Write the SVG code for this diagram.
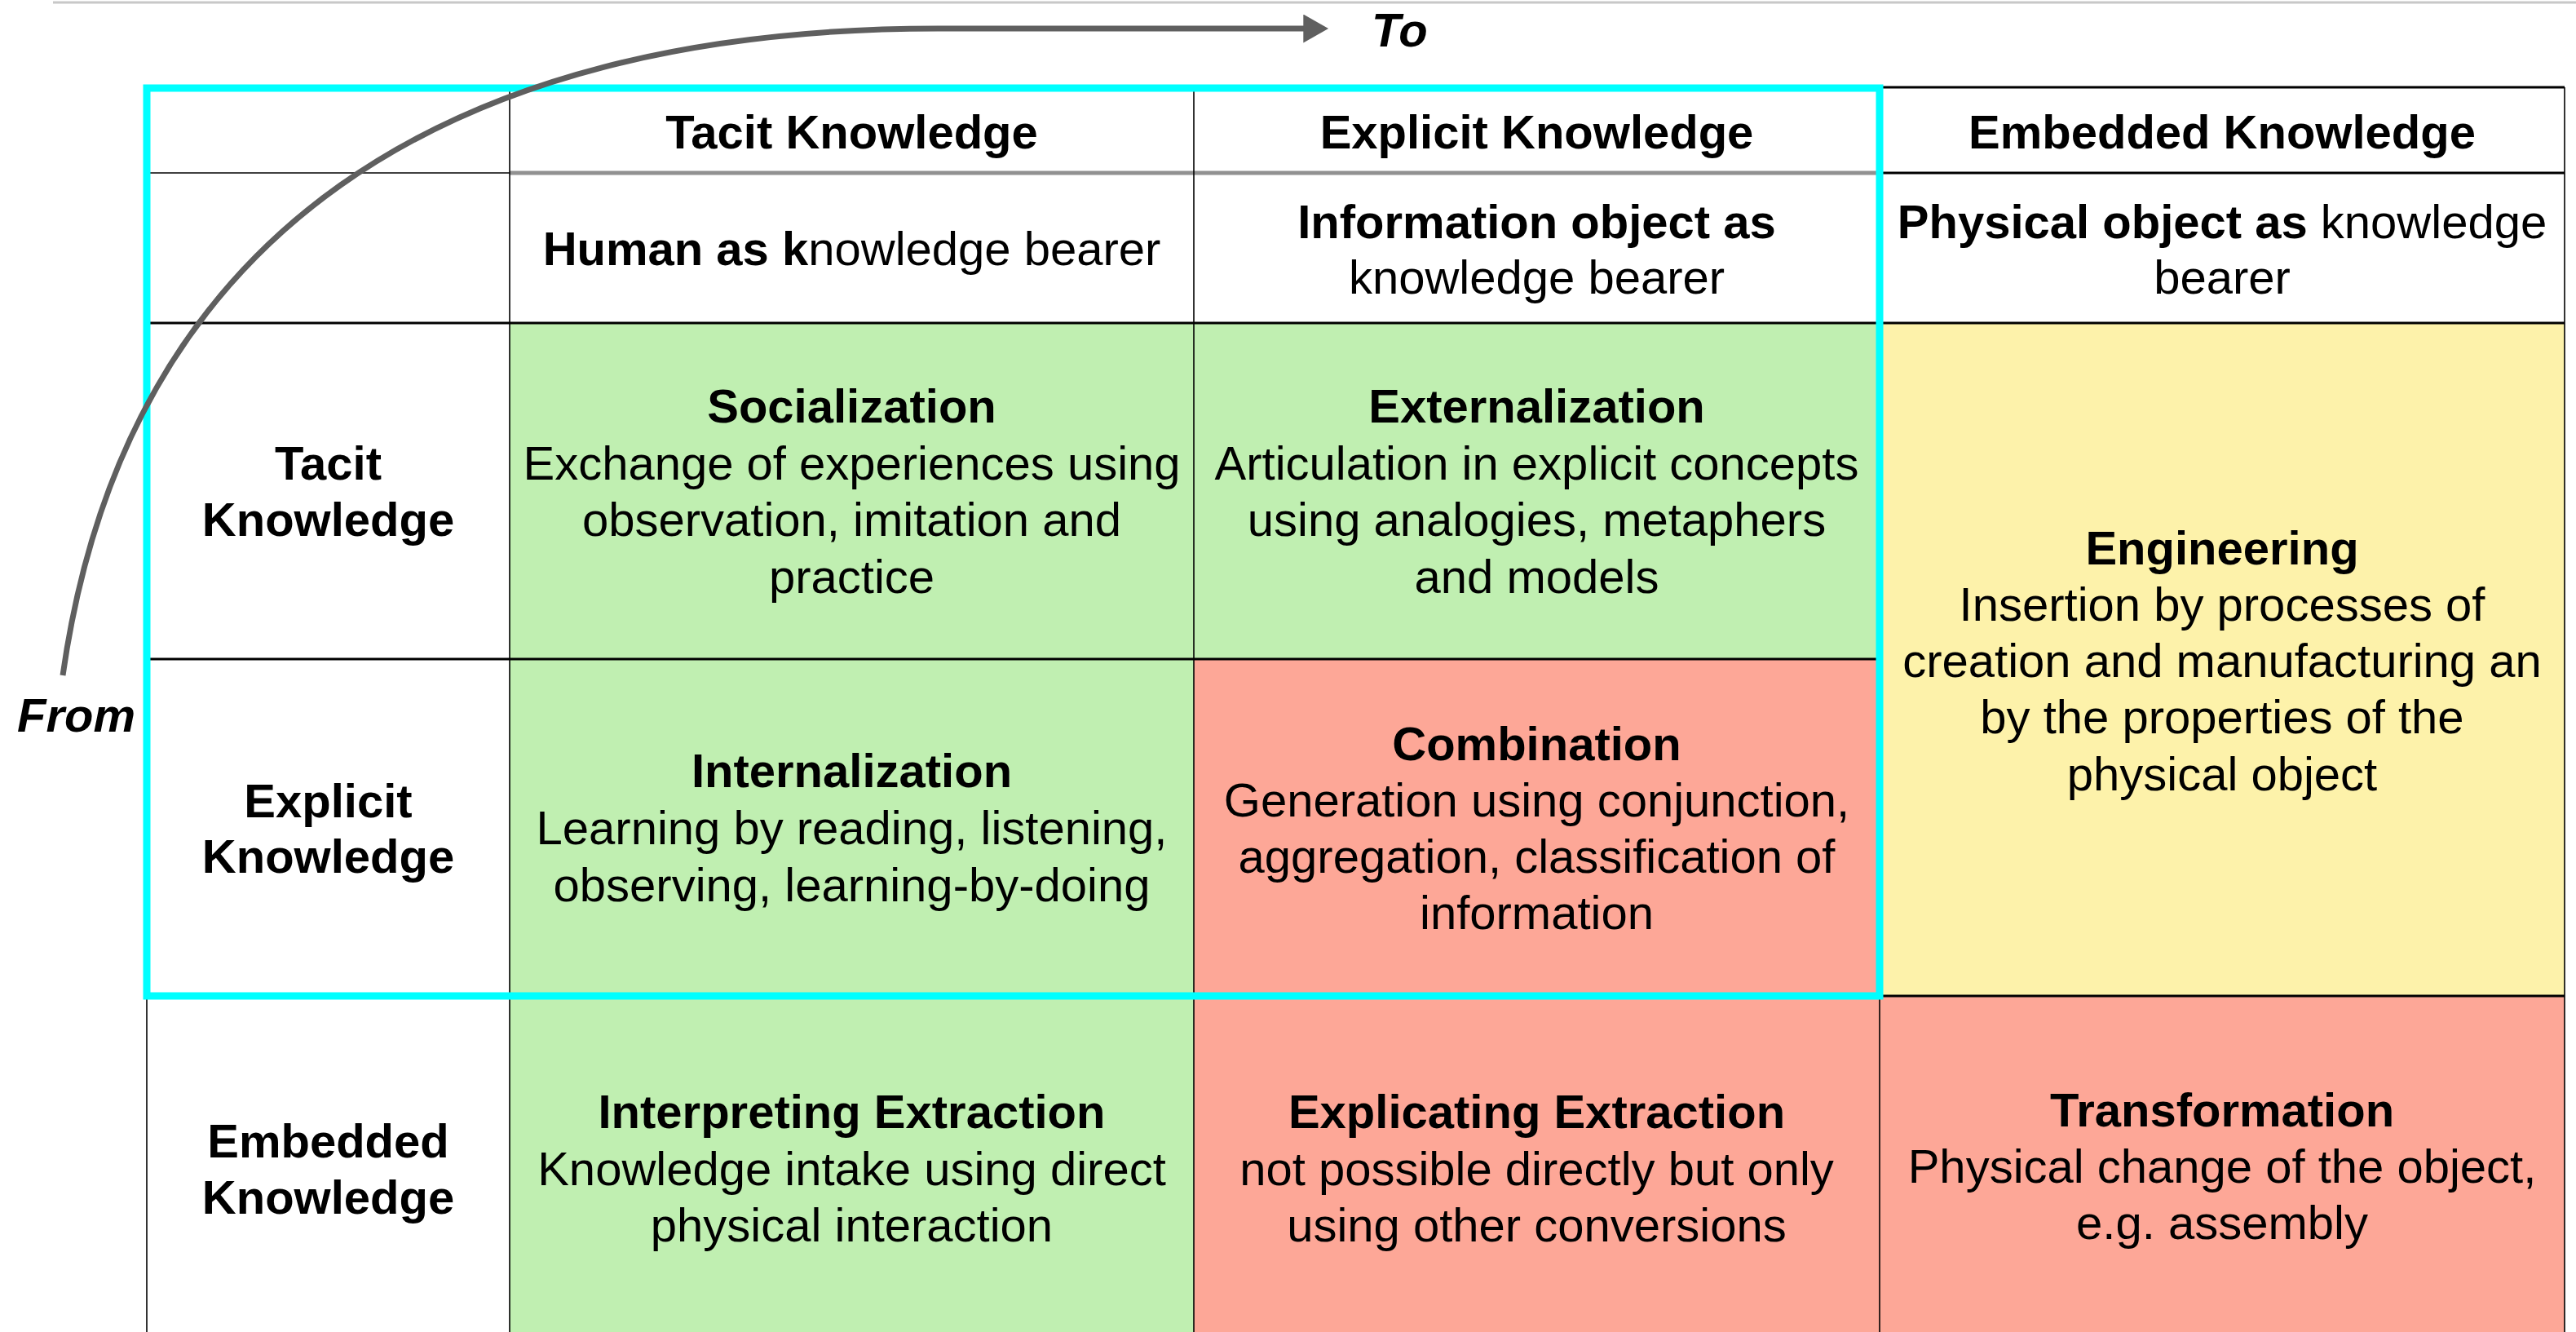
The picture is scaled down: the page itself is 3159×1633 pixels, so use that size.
<svg xmlns="http://www.w3.org/2000/svg" width="3159" height="1633" viewBox="0 0 3159 1633">
<defs>
<style>
text{font-family:"Liberation Sans",Arial,Helvetica,sans-serif;font-size:58px;fill:#000;text-anchor:middle}
.b{font-weight:bold}
.bi{font-weight:bold;font-style:italic;text-anchor:start}
.green{fill:#C0EFB1}
.red{fill:#FDA797}
.yellow{fill:#FDF2AA}
.white{fill:#FFFFFF}
.thin{stroke:#000;stroke-width:1.6;fill:none}
.thick{stroke:#000;stroke-width:3;fill:none}
</style>
<marker id="ah" markerWidth="5" markerHeight="5" refX="0.1" refY="2.5" orient="auto" markerUnits="strokeWidth">
<path d="M0,0 L4.4,2.5 L0,5 Z" fill="#5F5F5F"/>
</marker>
</defs>
<rect width="3159" height="1633" fill="#FFFFFF"/>
<line x1="65" y1="3" x2="3159" y2="3" stroke="#C8C8C8" stroke-width="3"/>

<g id="cells">
<g id="hdr-corner"><rect class="white" x="180" y="107" width="445" height="289"/></g>
<g id="hdr-tacit"><rect class="white" x="625" y="107" width="839" height="105"/><text class="b" x="1044.5" y="182">Tacit Knowledge</text></g>
<g id="hdr-explicit"><rect class="white" x="1464" y="107" width="841" height="105"/><text class="b" x="1884.5" y="182">Explicit Knowledge</text></g>
<g id="hdr-embedded"><rect class="white" x="2305" y="107" width="840" height="105"/><text class="b" x="2725" y="182">Embedded Knowledge</text></g>
<g id="bearer-human"><rect class="white" x="625" y="212" width="839" height="184"/><text x="1044.5" y="325"><tspan class="b">Human as k</tspan>nowledge bearer</text></g>
<g id="bearer-info"><rect class="white" x="1464" y="212" width="841" height="184"/><text class="b" x="1884.5" y="292">Information object as</text><text x="1884.5" y="360">knowledge bearer</text></g>
<g id="bearer-physical"><rect class="white" x="2305" y="212" width="840" height="184"/><text x="2725" y="292"><tspan class="b">Physical object as</tspan> knowledge</text><text x="2725" y="360">bearer</text></g>

<g id="row-tacit"><rect class="white" x="180" y="396" width="445" height="412"/><text class="b" x="402.5" y="588">Tacit</text><text class="b" x="402.5" y="657">Knowledge</text></g>
<g id="row-explicit"><rect class="white" x="180" y="808" width="445" height="413"/><text class="b" x="402.5" y="1002">Explicit</text><text class="b" x="402.5" y="1070">Knowledge</text></g>
<g id="row-embedded"><rect class="white" x="180" y="1221" width="445" height="412"/><text class="b" x="402.5" y="1419">Embedded</text><text class="b" x="402.5" y="1488">Knowledge</text></g>

<g id="socialization"><rect class="green" x="625" y="396" width="839" height="412"/>
<text class="b" x="1044.5" y="518">Socialization</text>
<text x="1044.5" y="588">Exchange of experiences using</text>
<text x="1044.5" y="657">observation, imitation and</text>
<text x="1044.5" y="727">practice</text></g>
<g id="externalization"><rect class="green" x="1464" y="396" width="841" height="412"/>
<text class="b" x="1884.5" y="518">Externalization</text>
<text x="1884.5" y="588">Articulation in explicit concepts</text>
<text x="1884.5" y="657">using analogies, metaphers</text>
<text x="1884.5" y="727">and models</text></g>
<g id="engineering"><rect class="yellow" x="2305" y="396" width="840" height="825"/>
<text class="b" x="2725" y="692">Engineering</text>
<text x="2725" y="761">Insertion by processes of</text>
<text x="2725" y="830">creation and manufacturing an</text>
<text x="2725" y="899">by the properties of the</text>
<text x="2725" y="969">physical object</text></g>
<g id="internalization"><rect class="green" x="625" y="808" width="839" height="413"/>
<text class="b" x="1044.5" y="965">Internalization</text>
<text x="1044.5" y="1035">Learning by reading, listening,</text>
<text x="1044.5" y="1105">observing, learning-by-doing</text></g>
<g id="combination"><rect class="red" x="1464" y="808" width="841" height="413"/>
<text class="b" x="1884.5" y="932">Combination</text>
<text x="1884.5" y="1001">Generation using conjunction,</text>
<text x="1884.5" y="1070">aggregation, classification of</text>
<text x="1884.5" y="1139">information</text></g>
<g id="interpreting-extraction"><rect class="green" x="625" y="1221" width="839" height="412"/>
<text class="b" x="1044.5" y="1383">Interpreting Extraction</text>
<text x="1044.5" y="1453">Knowledge intake using direct</text>
<text x="1044.5" y="1522">physical interaction</text></g>
<g id="explicating-extraction"><rect class="red" x="1464" y="1221" width="841" height="412"/>
<text class="b" x="1884.5" y="1383">Explicating Extraction</text>
<text x="1884.5" y="1453">not possible directly but only</text>
<text x="1884.5" y="1522">using other conversions</text></g>
<g id="transformation"><rect class="red" x="2305" y="1221" width="840" height="412"/>
<text class="b" x="2725" y="1381">Transformation</text>
<text x="2725" y="1450">Physical change of the object,</text>
<text x="2725" y="1519">e.g. assembly</text></g>
</g>

<g id="grid">
<line class="thick" x1="2305" y1="107" x2="3145" y2="107"/>
<line class="thin" x1="180" y1="212" x2="625" y2="212"/>
<line x1="625" y1="212" x2="2305" y2="212" stroke="#919191" stroke-width="5"/>
<line class="thick" x1="2305" y1="212" x2="3145" y2="212"/>
<line class="thick" x1="180" y1="396" x2="3145" y2="396"/>
<line class="thick" x1="180" y1="808" x2="2305" y2="808"/>
<line class="thick" x1="180" y1="1221" x2="3145" y2="1221"/>
<line class="thin" x1="625" y1="107" x2="625" y2="1633"/>
<line class="thin" x1="1464" y1="107" x2="1464" y2="1633"/>
<line class="thin" x1="2305" y1="107" x2="2305" y2="1633"/>
<line class="thin" x1="3145" y1="107" x2="3145" y2="1633"/>
<line class="thin" x1="180" y1="107" x2="180" y2="1633"/>
</g>

<g id="highlight">
<rect x="180" y="108" width="2125" height="1113" fill="none" stroke="#00FFFF" stroke-width="9"/>
</g>

<g id="connectors">
<path d="M77,828 C154,283 550,35 1150,35 L1599,35" fill="none" stroke="#5F5F5F" stroke-width="7" marker-end="url(#ah)"/>
</g>

<g id="axis-labels">
<text class="bi" x="1682" y="57">To</text>
<text class="bi" x="21" y="897">From</text>
</g>
</svg>
